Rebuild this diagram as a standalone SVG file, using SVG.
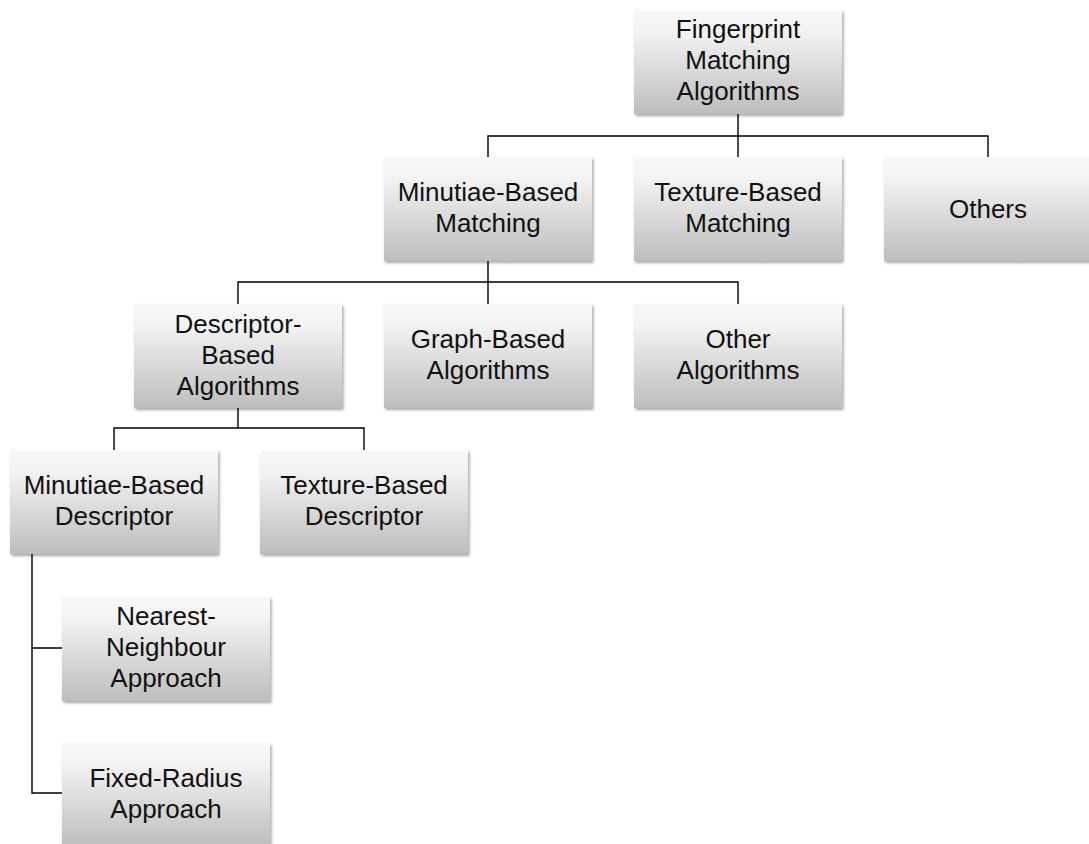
<svg xmlns="http://www.w3.org/2000/svg" width="1089" height="844" viewBox="0 0 1089 844">
<defs>
<linearGradient id="g" x1="0" y1="0" x2="0" y2="1">
<stop offset="0" stop-color="#f8f8f8"/>
<stop offset="0.2" stop-color="#f3f3f3"/>
<stop offset="1" stop-color="#bdbdbd"/>
</linearGradient>
<filter id="sh" x="-10%" y="-10%" width="130%" height="130%">
<feDropShadow dx="1.5" dy="2" stdDeviation="1.5" flood-color="#000" flood-opacity="0.35"/>
</filter>
</defs>
<style>
.box{fill:url(#g);filter:url(#sh)}
.t{font-family:"Liberation Sans",Arial,sans-serif;font-size:26px;fill:#111;text-anchor:middle}
.c{fill:none;stroke:#000;stroke-width:1.4}
</style>
<rect width="1089" height="844" fill="#fff"/>
<g id="connectors">
<path class="c" d="M738 114V136M488 157V136H988V157M738 136V157"/>
<path class="c" d="M488 261V282M238 304V282H738V304M488 282V304"/>
<path class="c" d="M238 408V428M114 450V428H364V450"/>
<path class="c" d="M32 553V793H62M32 648H62"/>
</g>
<g id="root"><rect class="box" x="634" y="10" width="208" height="104"/>
<text class="t" x="738"><tspan x="738" y="38">Fingerprint</tspan><tspan x="738" y="69">Matching</tspan><tspan x="738" y="100">Algorithms</tspan></text></g>
<g id="minutiae-matching"><rect class="box" x="384" y="157" width="208" height="104"/>
<text class="t"><tspan x="488" y="201">Minutiae-Based</tspan><tspan x="488" y="232">Matching</tspan></text></g>
<g id="texture-matching"><rect class="box" x="634" y="157" width="208" height="104"/>
<text class="t"><tspan x="738" y="201">Texture-Based</tspan><tspan x="738" y="232">Matching</tspan></text></g>
<g id="others"><rect class="box" x="884" y="157" width="208" height="104"/>
<text class="t" x="988" y="218">Others</text></g>
<g id="descriptor"><rect class="box" x="134" y="304" width="208" height="104"/>
<text class="t"><tspan x="238" y="333">Descriptor-</tspan><tspan x="238" y="364">Based</tspan><tspan x="238" y="395">Algorithms</tspan></text></g>
<g id="graph"><rect class="box" x="384" y="304" width="208" height="104"/>
<text class="t"><tspan x="488" y="348">Graph-Based</tspan><tspan x="488" y="379">Algorithms</tspan></text></g>
<g id="other-alg"><rect class="box" x="634" y="304" width="208" height="104"/>
<text class="t"><tspan x="738" y="348">Other</tspan><tspan x="738" y="379">Algorithms</tspan></text></g>
<g id="minutiae-desc"><rect class="box" x="10" y="450" width="208" height="104"/>
<text class="t"><tspan x="114" y="494">Minutiae-Based</tspan><tspan x="114" y="525">Descriptor</tspan></text></g>
<g id="texture-desc"><rect class="box" x="260" y="450" width="208" height="104"/>
<text class="t"><tspan x="364" y="494">Texture-Based</tspan><tspan x="364" y="525">Descriptor</tspan></text></g>
<g id="nearest"><rect class="box" x="62" y="597" width="208" height="104"/>
<text class="t"><tspan x="166" y="625">Nearest-</tspan><tspan x="166" y="656">Neighbour</tspan><tspan x="166" y="687">Approach</tspan></text></g>
<g id="fixed"><rect class="box" x="62" y="743" width="208" height="104"/>
<text class="t"><tspan x="166" y="787">Fixed-Radius</tspan><tspan x="166" y="818">Approach</tspan></text></g>
</svg>
